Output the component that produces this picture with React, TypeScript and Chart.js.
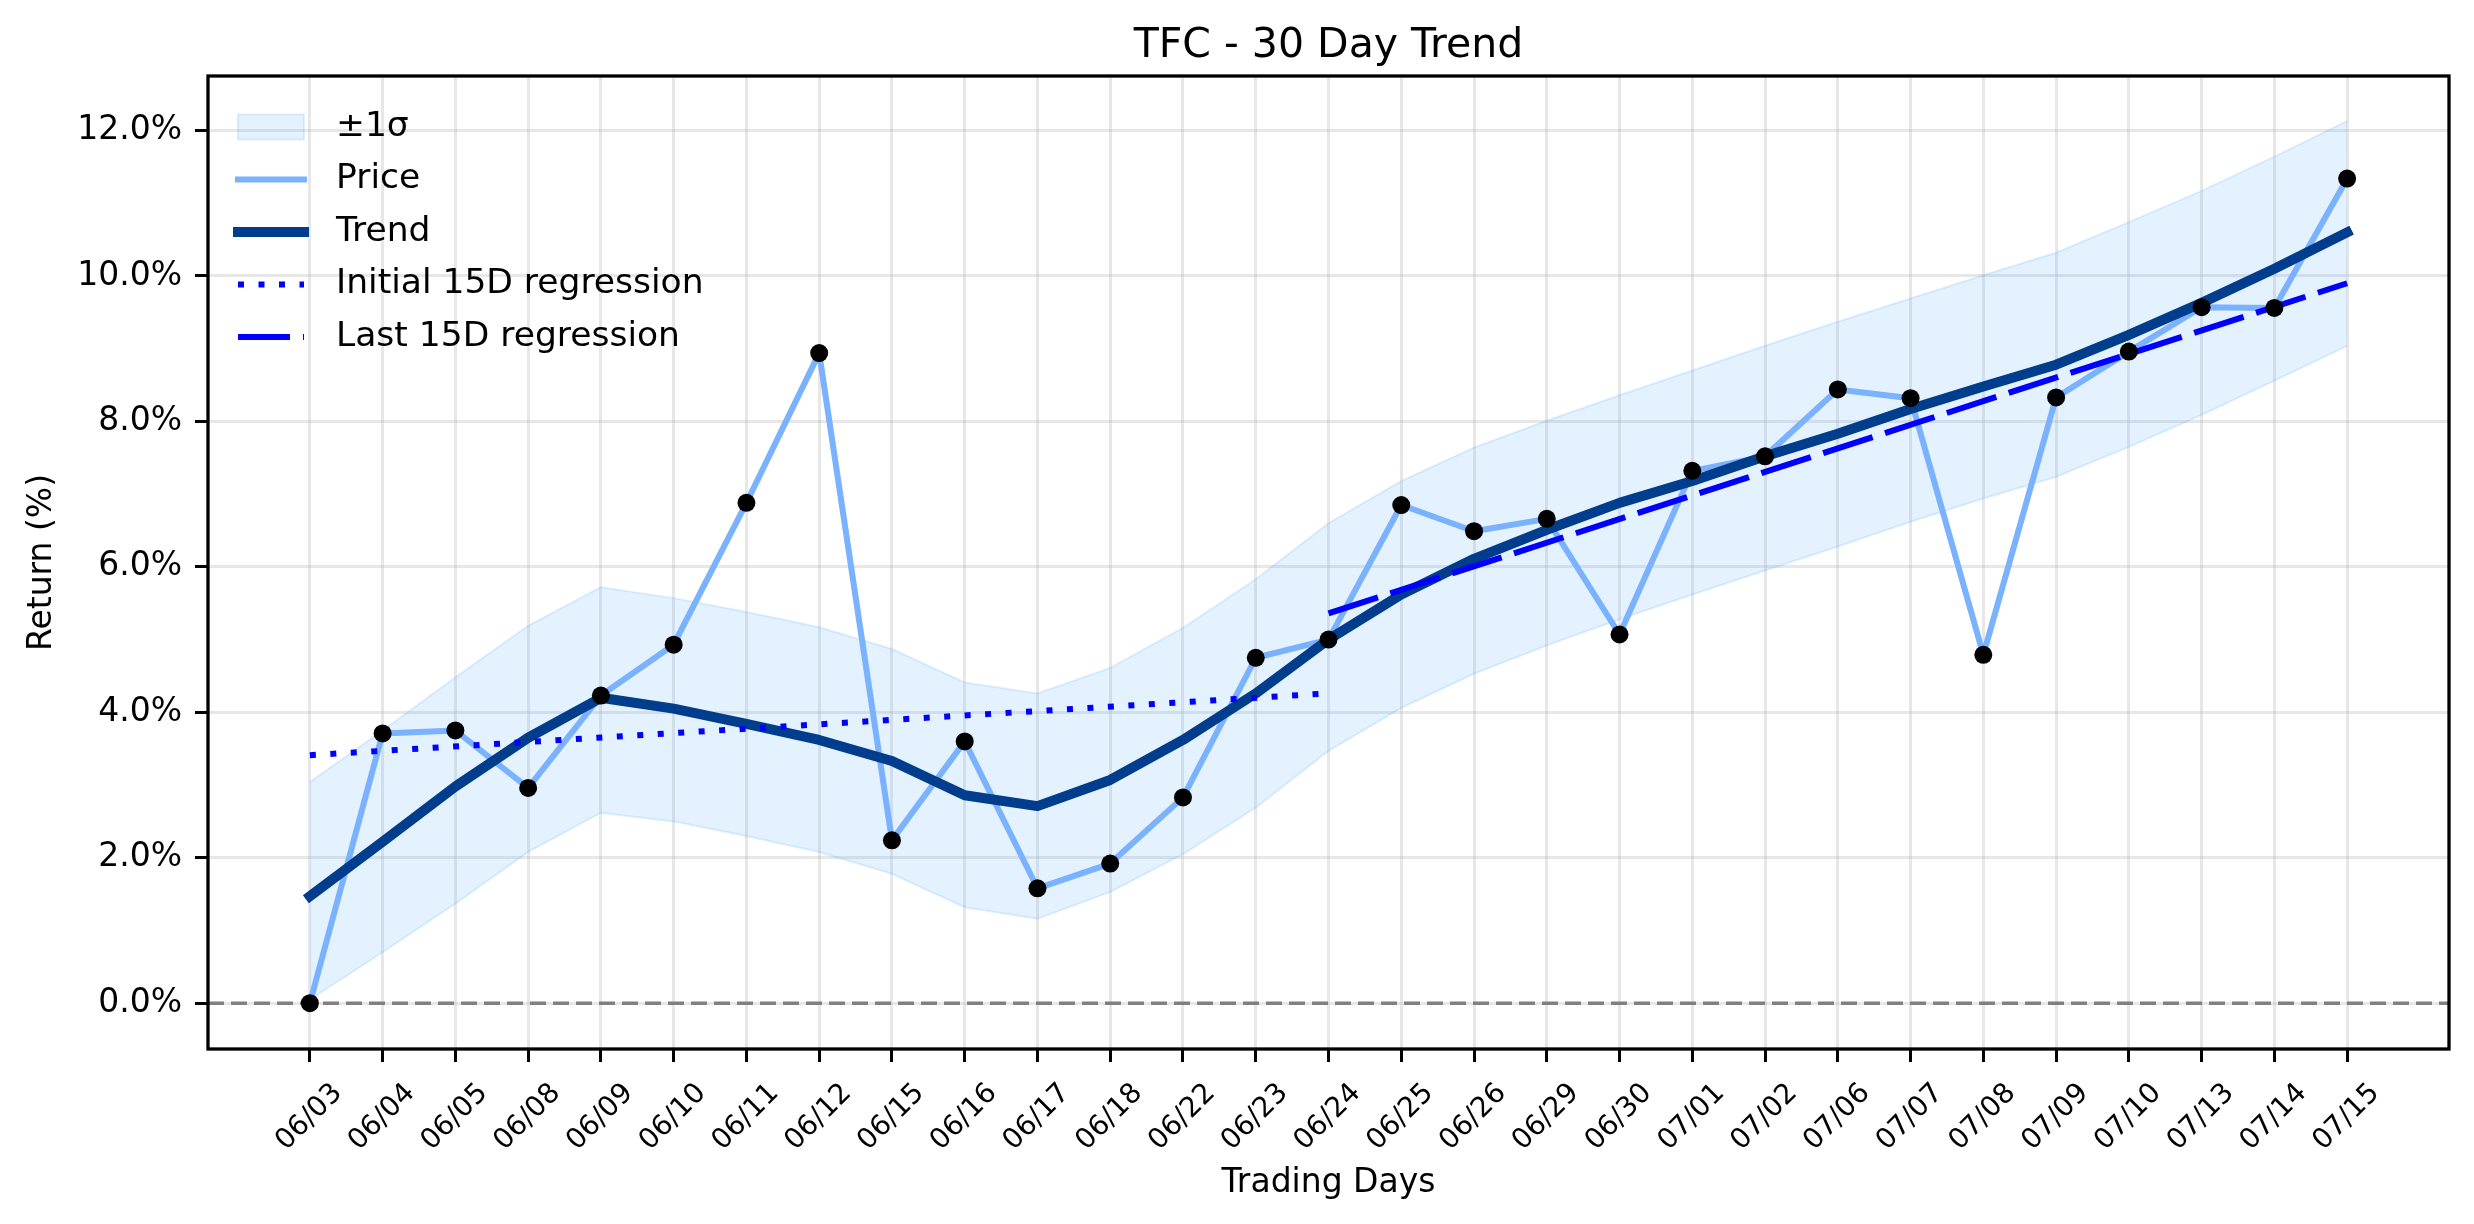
import React, { useEffect, useRef } from "react";
import { Chart, registerables } from "chart.js";

Chart.register(...registerables);

// ---- data ----
const xLabels = [
  "06/03", "06/04", "06/05", "06/08", "06/09", "06/10", "06/11", "06/12", "06/15", "06/16",
  "06/17", "06/18", "06/22", "06/23", "06/24", "06/25", "06/26", "06/29", "06/30", "07/01",
  "07/02", "07/06", "07/07", "07/08", "07/09", "07/10", "07/13", "07/14", "07/15",
];
const priceValues = [
  0.0, 3.71, 3.75, 2.96, 4.23, 4.93, 6.88, 8.94, 2.24, 3.6,
  1.58, 1.92, 2.83, 4.75, 5.0, 6.85, 6.49, 6.66, 5.07, 7.32,
  7.52, 8.44, 8.32, 4.79, 8.33, 8.96, 9.57, 9.56, 11.34,
];
const trendValues = [
  1.47, 2.22, 2.98, 3.65, 4.2, 4.05, 3.84, 3.62, 3.33, 2.86,
  2.71, 3.07, 3.62, 4.26, 5.0, 5.62, 6.11, 6.51, 6.88, 7.18,
  7.52, 7.83, 8.17, 8.48, 8.78, 9.19, 9.63, 10.1, 10.6,
];
const upperBand = [
  3.04, 3.75, 4.48, 5.19, 5.72, 5.57, 5.38, 5.17, 4.87, 4.41,
  4.26, 4.61, 5.16, 5.83, 6.6, 7.18, 7.64, 8.01, 8.36, 8.7,
  9.04, 9.37, 9.69, 10.01, 10.32, 10.74, 11.17, 11.64, 12.13,
];
const lowerBand = [
  0.05, 0.7, 1.37, 2.08, 2.62, 2.5, 2.3, 2.08, 1.78, 1.32,
  1.16, 1.53, 2.05, 2.69, 3.47, 4.06, 4.53, 4.92, 5.28, 5.62,
  5.95, 6.28, 6.62, 6.94, 7.24, 7.65, 8.09, 8.56, 9.04,
];
const initialRegX = [0, 14];
const initialRegY = [3.41, 4.26];
const lastRegX = [14, 28];
const lastRegY = [5.36, 9.9];
const yTickValues = [0, 2, 4, 6, 8, 10, 12];
const X_MIN = -1.4;
const X_MAX = 29.4;
const Y_MIN = -0.63;
const Y_MAX = 12.75;

// ---- styles ----
const FONT = '"DejaVu Sans"';
const PRICE = "#7ab2ff";
const TREND = "#003d8c";
const REG = "#0000ff";
const BAND_FILL = "rgba(77,166,255,0.15)";
const BAND_EDGE = "rgba(77,166,255,0.18)";
const GRID = "rgba(176,176,176,0.3)";
const DOT_DASH = [6, 14.5];
const LONG_DASH = [52, 13];

const legendItems = [
  { label: "\u00b11\u03c3", kind: "patch" },
  { label: "Price", kind: "price" },
  { label: "Trend", kind: "trend" },
  { label: "Initial 15D regression", kind: "dotted" },
  { label: "Last 15D regression", kind: "dashed" },
];

const decorPlugin = {
  id: "decor",
  beforeDatasetsDraw(chart: any) {
    const { ctx, chartArea } = chart;
    const y0 = chart.scales.y.getPixelForValue(0);
    ctx.save();
    ctx.strokeStyle = "#808080";
    ctx.lineWidth = 3.5;
    ctx.setLineDash([16, 7]);
    ctx.beginPath();
    ctx.moveTo(chartArea.left, y0);
    ctx.lineTo(chartArea.right, y0);
    ctx.stroke();
    ctx.restore();
  },
  afterDraw(chart: any) {
    const { ctx, chartArea } = chart;
    ctx.save();
    // frame
    ctx.strokeStyle = "#000";
    ctx.lineWidth = 3.3;
    ctx.setLineDash([]);
    ctx.strokeRect(chartArea.left, chartArea.top, chartArea.right - chartArea.left, chartArea.bottom - chartArea.top);
    // title
    ctx.fillStyle = "#000";
    ctx.font = `41px ${FONT}`;
    ctx.textAlign = "center";
    ctx.textBaseline = "alphabetic";
    ctx.fillText("TFC - 30 Day Trend", (chartArea.left + chartArea.right) / 2, 57);
    // legend
    const hx0 = chartArea.left + 30;
    const hx1 = hx0 + 66;
    const tx = hx1 + 32;
    const rowTop = chartArea.top + 51;
    const rowGap = 52.5;
    ctx.font = `34.5px ${FONT}`;
    ctx.textAlign = "left";
    ctx.textBaseline = "middle";
    legendItems.forEach((it, i) => {
      const cy = rowTop + i * rowGap;
      ctx.save();
      if (it.kind === "patch") {
        ctx.fillStyle = BAND_FILL;
        ctx.fillRect(hx0, cy - 12.5, hx1 - hx0, 25);
        ctx.strokeStyle = BAND_EDGE;
        ctx.lineWidth = 2;
        ctx.strokeRect(hx0, cy - 12.5, hx1 - hx0, 25);
      } else {
        ctx.beginPath();
        if (it.kind === "price") {
          ctx.strokeStyle = PRICE; ctx.lineWidth = 6; ctx.lineCap = "square";
        } else if (it.kind === "trend") {
          ctx.strokeStyle = TREND; ctx.lineWidth = 10; ctx.lineCap = "square";
        } else if (it.kind === "dotted") {
          ctx.strokeStyle = REG; ctx.lineWidth = 6; ctx.setLineDash(DOT_DASH);
        } else {
          ctx.strokeStyle = REG; ctx.lineWidth = 6; ctx.setLineDash(LONG_DASH);
        }
        ctx.moveTo(hx0, cy);
        ctx.lineTo(hx1, cy);
        ctx.stroke();
      }
      ctx.restore();
      ctx.fillStyle = "#000";
      ctx.fillText(it.label, tx, cy);
    });
    ctx.restore();
  },
};

export default function App() {
  const ref = useRef<HTMLCanvasElement>(null);

  useEffect(() => {
    const canvas = ref.current;
    if (!canvas) return;
    Chart.defaults.font.family = FONT;
    Chart.defaults.color = "#000";
    const pts = (ys: number[]) => ys.map((y, i) => ({ x: i, y }));
    const pairs = (xs: number[], ys: number[]) => xs.map((x, i) => ({ x, y: ys[i] }));

    const chart = new Chart(canvas, {
      type: "line",
      data: {
        datasets: [
          {
            label: "lower",
            data: pts(lowerBand),
            borderColor: BAND_EDGE,
            borderWidth: 2,
            pointRadius: 0,
            fill: false,
            tension: 0,
            order: 6,
          },
          {
            label: "\u00b11\u03c3",
            data: pts(upperBand),
            borderColor: BAND_EDGE,
            borderWidth: 2,
            backgroundColor: BAND_FILL,
            pointRadius: 0,
            fill: "-1",
            tension: 0,
            order: 5,
          },
          {
            label: "Price",
            data: pts(priceValues),
            borderColor: PRICE,
            borderWidth: 6,
            borderCapStyle: "square",
            borderJoinStyle: "round",
            pointRadius: 0,
            fill: false,
            tension: 0,
            order: 4,
          },
          {
            label: "Trend",
            data: pts(trendValues),
            borderColor: TREND,
            borderWidth: 10,
            borderCapStyle: "square",
            borderJoinStyle: "round",
            pointRadius: 0,
            fill: false,
            tension: 0,
            order: 3,
          },
          {
            label: "Initial 15D regression",
            data: pairs(initialRegX, initialRegY),
            borderColor: REG,
            borderWidth: 6,
            borderDash: DOT_DASH,
            pointRadius: 0,
            fill: false,
            order: 2,
          },
          {
            label: "Last 15D regression",
            data: pairs(lastRegX, lastRegY),
            borderColor: REG,
            borderWidth: 6,
            borderDash: LONG_DASH,
            pointRadius: 0,
            fill: false,
            order: 1,
          },
          {
            label: "points",
            data: pts(priceValues),
            showLine: false,
            pointRadius: 9,
            pointBackgroundColor: "#000",
            pointBorderWidth: 0,
            order: 0,
          },
        ],
      },
      options: {
        responsive: false,
        devicePixelRatio: 1,
        animation: false,
        layout: { padding: { top: 76, right: 25, bottom: 0, left: 0 } },
        plugins: {
          legend: { display: false },
          tooltip: { enabled: false },
          title: { display: false },
        },
        scales: {
          x: {
            type: "linear",
            min: X_MIN,
            max: X_MAX,
            afterBuildTicks: (s: any) => {
              s.ticks = xLabels.map((_, i) => ({ value: i }));
            },
            afterFit: (s: any) => {
              s.height = 175;
            },
            grid: {
              color: GRID,
              lineWidth: 3,
              drawTicks: true,
              tickColor: "#000",
              tickWidth: 3,
              tickLength: 13,
            },
            border: { display: false },
            ticks: {
              autoSkip: false,
              minRotation: 45,
              maxRotation: 45,
              padding: 15,
              labelOffset: 28,
              color: "#000",
              font: { size: 28, family: FONT },
              callback: (v: any) => xLabels[Math.round(Number(v))] ?? "",
            },
            title: {
              display: true,
              text: "Trading Days",
              color: "#000",
              font: { size: 33, family: FONT },
              padding: { top: 21, bottom: 21 },
            },
          },
          y: {
            type: "linear",
            min: Y_MIN,
            max: Y_MAX,
            afterBuildTicks: (s: any) => {
              s.ticks = yTickValues.map((v) => ({ value: v }));
            },
            afterFit: (s: any) => {
              s.width = 208;
            },
            grid: {
              color: GRID,
              lineWidth: 3,
              drawTicks: true,
              tickColor: "#000",
              tickWidth: 3,
              tickLength: 13,
            },
            border: { display: false },
            ticks: {
              padding: 13,
              color: "#000",
              font: { size: 33, family: FONT },
              callback: (v: any) => Number(v).toFixed(1) + "%",
            },
            title: {
              display: true,
              text: "Return (%)",
              color: "#000",
              font: { size: 33, family: FONT },
              padding: { top: 23, bottom: 23 },
            },
          },
        },
      } as any,
      plugins: [decorPlugin],
    });
    return () => chart.destroy();
  }, []);

  return (
    <div style={{ position: "fixed", left: 0, top: 0, width: 2474, height: 1224, background: "#fff" }}>
      <canvas ref={ref} width={2474} height={1224} style={{ width: 2474, height: 1224, display: "block" }} />
    </div>
  );
}
